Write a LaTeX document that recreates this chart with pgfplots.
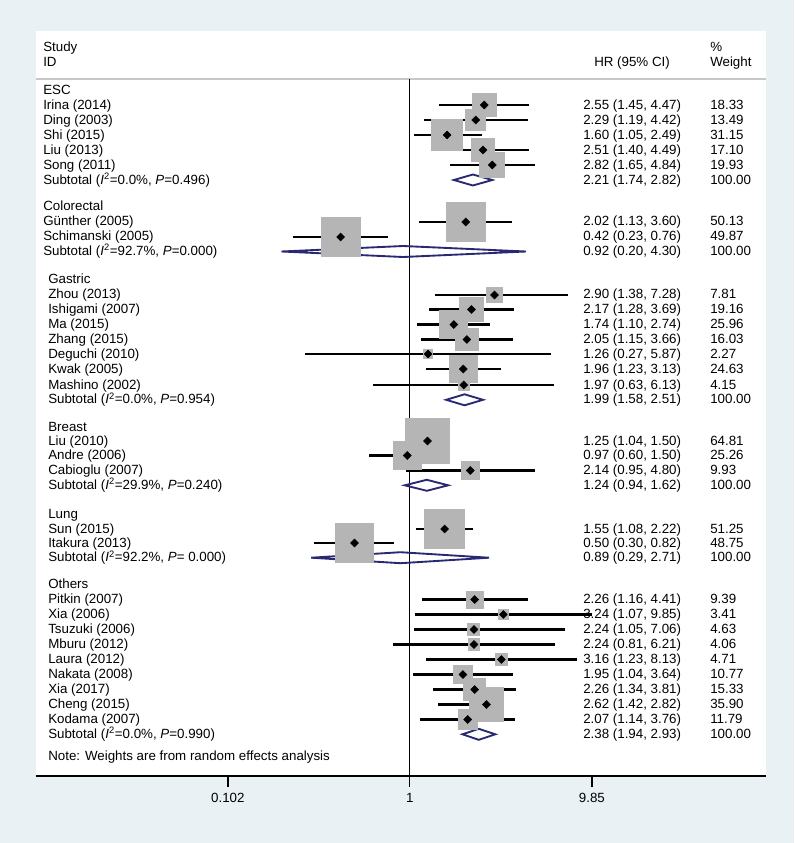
\documentclass[border=0pt]{standalone}
\usepackage{fontspec}
\setmainfont{Liberation Sans}
\usepackage{pgfplots}
\usepackage{pgfplotstable}
\pgfplotsset{compat=1.18}
\definecolor{bgblue}{RGB}{234,241,244}
\definecolor{boxgray}{RGB}{181,181,181}
\definecolor{dnavy}{RGB}{40,40,115}
\definecolor{hdrgray}{RGB}{200,200,200}
\newcommand{\fsz}{\fontsize{10}{12}\selectfont}
\newcommand{\T}[3]{\node[anchor=base west, inner sep=0pt] at ({#1*0.75pt},{(843-#2-4.2)*0.75pt}) {#3};}
\newcommand{\Isq}{\textit{I}\textsuperscript{2}}

\pgfplotstableread{
y hr lo hi w
105 2.55 1.45 4.47 18.33
120 2.29 1.19 4.42 13.49
135 1.60 1.05 2.49 31.15
150 2.51 1.40 4.49 17.10
165 2.82 1.65 4.84 19.93
222 2.02 1.13 3.60 50.13
237 0.42 0.23 0.76 49.87
295 2.90 1.38 7.28 7.81
309.5 2.17 1.28 3.69 19.16
324.5 1.74 1.10 2.74 25.96
339.5 2.05 1.15 3.66 16.03
354 1.26 0.27 5.87 2.27
369 1.96 1.23 3.13 24.63
385 1.97 0.63 6.13 4.15
441 1.25 1.04 1.50 64.81
455.5 0.97 0.60 1.50 25.26
470.5 2.14 0.95 4.80 9.93
529 1.55 1.08 2.22 51.25
543 0.50 0.30 0.82 48.75
599.5 2.26 1.16 4.41 9.39
614.5 3.24 1.07 9.85 3.41
629.5 2.24 1.05 7.06 4.63
644.5 2.24 0.81 6.21 4.06
659.5 3.16 1.23 8.13 4.71
674.5 1.95 1.04 3.64 10.77
689.5 2.26 1.34 3.81 15.33
704.5 2.62 1.42 2.82 35.90
719.5 2.07 1.14 3.76 11.79
}\studies

\begin{document}
\begin{tikzpicture}[font=\fsz]
\fill[bgblue] (0,0) rectangle (595.5pt,632.25pt);
\fill[white] (27pt,50.25pt) rectangle (574.5pt,609pt);
\begin{axis}[
  at={(27pt,50.25pt)}, anchor=south west,
  width=547.5pt, height=558.75pt, scale only axis,
  xmode=log, log basis x=10, xmin=0.00917, xmax=87.6,
  ymin=31, ymax=776, y dir=reverse,
  axis x line*=bottom, axis y line=none,
  x axis line style={-, line width=1pt, black},
  xtick={0.102,1,9.85}, xticklabels={0.102,1,9.85},
  xminorticks=false,
  tick align=outside, major tick length=8pt,
  tick style={black, line width=1pt},
  xticklabel style={font=\fsz, yshift=-1.5pt},
  clip=false,
]
% header separator
\addplot[hdrgray, line width=1.3pt] coordinates {(0.00917,79) (87.6,79)};
% study boxes (area proportional to weight)
\addplot[scatter, only marks, mark=square*,
  scatter/use mapped color={draw=boxgray, fill=boxgray},
  mark options={line width=0pt},
  visualization depends on={2.08*sqrt(\thisrow{w}) \as \ms},
  scatter/@pre marker code/.append style={/tikz/mark size=\ms},
  point meta=\thisrow{w}] table[x=hr, y=y] \studies;
% null line
\addplot[black, line width=1pt] coordinates {(1,79) (1,776)};
% confidence intervals and point estimates
\addplot[only marks, mark=square*, mark size=2.1pt, mark options={rotate=45}, black,
  error bars/.cd, x dir=both, x explicit, error mark=none,
  error bar style={line width=1.9pt, black}]
  table[x=hr, y=y, x error plus expr=\thisrow{hi}-\thisrow{hr},
        x error minus expr=\thisrow{hr}-\thisrow{lo}] \studies;
% subtotal diamonds
\addplot[dnavy, line width=1.4pt, line join=miter] coordinates {(1.74,180) (2.21,174.5) (2.82,180) (2.21,185.5)} -- cycle;
\addplot[dnavy, line width=1.4pt, line join=miter] coordinates {(0.20,251.5) (0.92,246) (4.30,251.5) (0.92,257)} -- cycle;
\addplot[dnavy, line width=1.4pt, line join=miter] coordinates {(1.58,399.8) (1.99,394.3) (2.51,399.8) (1.99,405.3)} -- cycle;
\addplot[dnavy, line width=1.4pt, line join=miter] coordinates {(0.94,485.3) (1.24,479.8) (1.62,485.3) (1.24,490.8)} -- cycle;
\addplot[dnavy, line width=1.4pt, line join=miter] coordinates {(0.29,557.7) (0.89,552.2) (2.71,557.7) (0.89,563.2)} -- cycle;
\addplot[dnavy, line width=1.4pt, line join=miter] coordinates {(1.94,734.3) (2.38,728.8) (2.93,734.3) (2.38,739.8)} -- cycle;
\end{axis}
% headers
\T{43}{47}{Study}
\T{43}{62}{ID}
\T{594}{62}{HR (95\% CI)}
\T{710}{47}{\%}
\T{710}{62}{Weight}
% ESC
\T{43}{90}{ESC}
\T{43}{105}{Irina (2014)}\T{583}{105}{2.55 (1.45, 4.47)}\T{710}{105}{18.33}
\T{43}{120}{Ding (2003)}\T{583}{120}{2.29 (1.19, 4.42)}\T{710}{120}{13.49}
\T{43}{135}{Shi (2015)}\T{583}{135}{1.60 (1.05, 2.49)}\T{710}{135}{31.15}
\T{43}{150}{Liu (2013)}\T{583}{150}{2.51 (1.40, 4.49)}\T{710}{150}{17.10}
\T{43}{165}{Song (2011)}\T{583}{165}{2.82 (1.65, 4.84)}\T{710}{165}{19.93}
\T{43}{180}{Subtotal (\Isq=0.0\%, \textit{P}=0.496)}\T{583}{180}{2.21 (1.74, 2.82)}\T{710}{180}{100.00}
% Colorectal
\T{43}{206.7}{Colorectal}
\T{43}{221.7}{Günther (2005)}\T{583}{221.7}{2.02 (1.13, 3.60)}\T{710}{221.7}{50.13}
\T{43}{236.7}{Schimanski (2005)}\T{583}{236.7}{0.42 (0.23, 0.76)}\T{710}{236.7}{49.87}
\T{43}{251.5}{Subtotal (\Isq=92.7\%, \textit{P}=0.000)}\T{583}{251.5}{0.92 (0.20, 4.30)}\T{710}{251.5}{100.00}
% Gastric
\T{48}{279.5}{Gastric}
\T{48}{294.5}{Zhou (2013)}\T{583}{294.5}{2.90 (1.38, 7.28)}\T{710}{294.5}{7.81}
\T{48}{309.4}{Ishigami (2007)}\T{583}{309.4}{2.17 (1.28, 3.69)}\T{710}{309.4}{19.16}
\T{48}{324.3}{Ma (2015)}\T{583}{324.3}{1.74 (1.10, 2.74)}\T{710}{324.3}{25.96}
\T{48}{339.2}{Zhang (2015)}\T{583}{339.2}{2.05 (1.15, 3.66)}\T{710}{339.2}{16.03}
\T{48}{354.1}{Deguchi (2010)}\T{583}{354.1}{1.26 (0.27, 5.87)}\T{710}{354.1}{2.27}
\T{48}{369}{Kwak (2005)}\T{583}{369}{1.96 (1.23, 3.13)}\T{710}{369}{24.63}
\T{48}{384.9}{Mashino (2002)}\T{583}{384.9}{1.97 (0.63, 6.13)}\T{710}{384.9}{4.15}
\T{48}{399.8}{Subtotal (\Isq=0.0\%, \textit{P}=0.954)}\T{583}{399.8}{1.99 (1.58, 2.51)}\T{710}{399.8}{100.00}
% Breast
\T{48}{427.3}{Breast}
\T{48}{441}{Liu (2010)}\T{583}{441}{1.25 (1.04, 1.50)}\T{710}{441}{64.81}
\T{48}{455.5}{Andre (2006)}\T{583}{455.5}{0.97 (0.60, 1.50)}\T{710}{455.5}{25.26}
\T{48}{470.3}{Cabioglu (2007)}\T{583}{470.3}{2.14 (0.95, 4.80)}\T{710}{470.3}{9.93}
\T{48}{485.3}{Subtotal (\Isq=29.9\%, \textit{P}=0.240)}\T{583}{485.3}{1.24 (0.94, 1.62)}\T{710}{485.3}{100.00}
% Lung
\T{48}{514.5}{Lung}
\T{48}{529}{Sun (2015)}\T{583}{529}{1.55 (1.08, 2.22)}\T{710}{529}{51.25}
\T{48}{543}{Itakura (2013)}\T{583}{543}{0.50 (0.30, 0.82)}\T{710}{543}{48.75}
\T{48}{557.7}{Subtotal (\Isq=92.2\%, \textit{P}= 0.000)}\T{583}{557.7}{0.89 (0.29, 2.71)}\T{710}{557.7}{100.00}
% Others
\T{48}{584.3}{Others}
\T{48}{599.5}{Pitkin (2007)}\T{583}{599.5}{2.26 (1.16, 4.41)}\T{710}{599.5}{9.39}
\T{48}{614.5}{Xia (2006)}\T{583}{614.5}{3.24 (1.07, 9.85)}\T{710}{614.5}{3.41}
\T{48}{629.5}{Tsuzuki (2006)}\T{583}{629.5}{2.24 (1.05, 7.06)}\T{710}{629.5}{4.63}
\T{48}{644.5}{Mburu (2012)}\T{583}{644.5}{2.24 (0.81, 6.21)}\T{710}{644.5}{4.06}
\T{48}{659.5}{Laura (2012)}\T{583}{659.5}{3.16 (1.23, 8.13)}\T{710}{659.5}{4.71}
\T{48}{674.5}{Nakata (2008)}\T{583}{674.5}{1.95 (1.04, 3.64)}\T{710}{674.5}{10.77}
\T{48}{689.5}{Xia (2017)}\T{583}{689.5}{2.26 (1.34, 3.81)}\T{710}{689.5}{15.33}
\T{48}{704.3}{Cheng (2015)}\T{583}{704.3}{2.62 (1.42, 2.82)}\T{710}{704.3}{35.90}
\T{48}{719.3}{Kodama (2007)}\T{583}{719.3}{2.07 (1.14, 3.76)}\T{710}{719.3}{11.79}
\T{48}{734.3}{Subtotal (\Isq=0.0\%, \textit{P}=0.990)}\T{583}{734.3}{2.38 (1.94, 2.93)}\T{710}{734.3}{100.00}
\T{48}{756}{Note: Weights are from random effects analysis}
\end{tikzpicture}
\end{document}
